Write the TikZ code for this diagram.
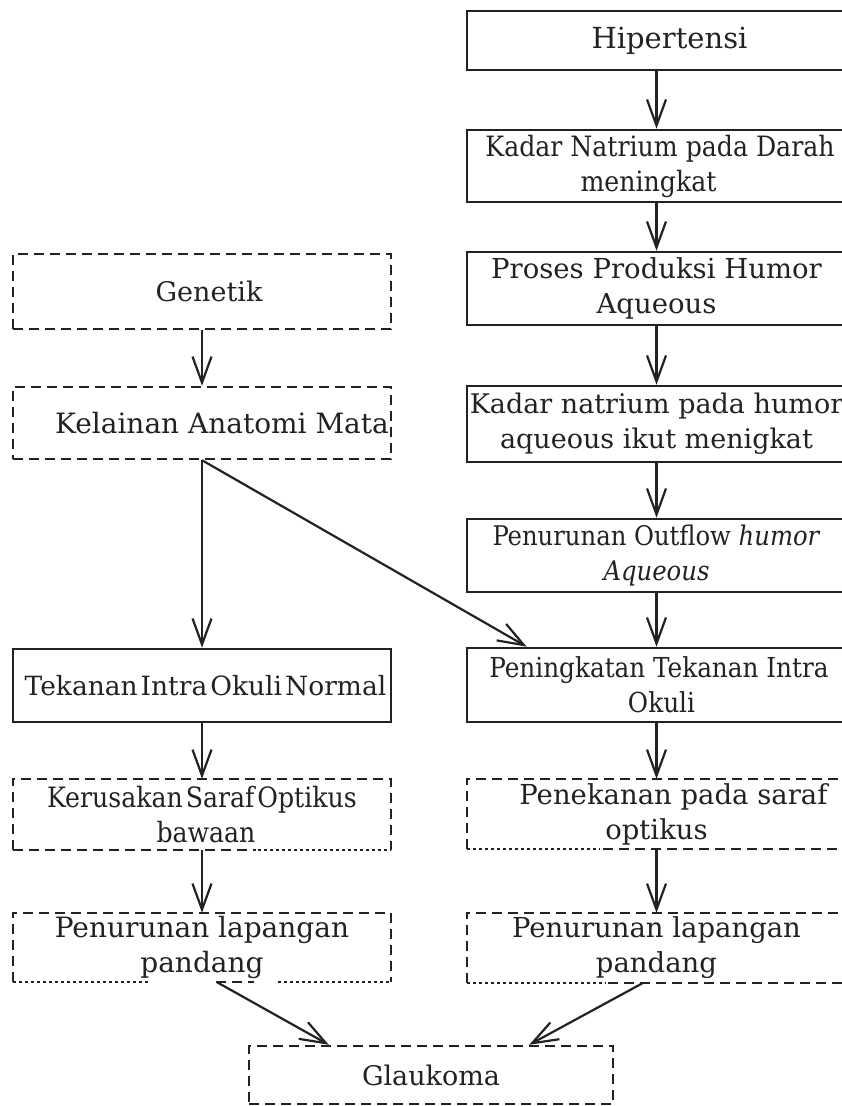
\documentclass[tikz,border=0pt]{standalone}
\usepackage{fontspec}
\setmainfont{DejaVu Serif}
\newfontfamily\condfont{DejaVu Serif Condensed}
\usetikzlibrary{arrows.meta,calc}
\definecolor{ink}{HTML}{222222}
\begin{document}
\begin{tikzpicture}[x=1pt,y=-1pt,
  plain/.style={text=ink, rectangle, inner sep=0pt, align=center,
    font=\fontsize{27}{35}\selectfont},
  box/.style={plain, draw=ink, line width=2.6pt},
  dbox/.style={plain, draw=ink, line width=2.4pt, dash pattern=on 10pt off 6pt},
  dline/.style={draw=ink, line width=2.4pt, dash pattern=on 10pt off 6pt},
  dotline/.style={draw=ink, line width=2pt, dash pattern=on 3pt off 3pt},
  fs/.style={font=\fontsize{#1}{35}\selectfont},
  cfs/.style={font=\condfont\fontsize{#1}{35}\selectfont},
  rcol/.style={minimum width=379pt},
  lcol/.style={minimum width=378pt},
  arr/.style={draw=ink, line width=2.2pt,
    -{Straight Barb[length=26pt,width=19pt]}}]
\clip (0,0) rectangle (842,1106);
% right column
\node[box,rcol,minimum height=59pt,fs=29] (r1) at (656.5,40.5) {\hspace*{26pt}Hipertensi};
\node[box,rcol,minimum height=72pt,cfs=28] (r2) at (656.5,166) {\hspace*{7pt}Kadar Natrium pada Darah\\meningkat\hspace*{16pt}};
\node[box,rcol,minimum height=73pt,fs=27.5] (r3) at (656.5,288.5) {Proses Produksi Humor\\Aqueous};
\node[box,rcol,minimum height=76pt] (r4) at (656.5,424) {Kadar natrium pada humor\\aqueous ikut menigkat};
\node[box,rcol,minimum height=73pt,cfs=27] (r5) at (656.5,555.5) {Penurunan Outflow \textit{humor}\\\textit{Aqueous}};
\node[box,rcol,minimum height=74pt,cfs=27.5] (r6) at (656.5,685) {\hspace*{5pt}Peningkatan Tekanan Intra\\\hspace*{10pt}Okuli};
\node[plain,rcol,minimum height=70pt,fs=27.5] (r7) at (656.5,814) {\hspace*{34pt}Penekanan pada saraf\\optikus};
\node[plain,rcol,minimum height=70pt,fs=27.5] (r8) at (656.5,948) {Penurunan lapangan\\pandang};
% left column
\node[dbox,lcol,minimum height=75pt] (l1) at (202,291.5) {\hspace*{14pt}Genetik};
\node[dbox,lcol,minimum height=72pt,fs=28] (l2) at (202,423) {\hspace*{40pt}Kelainan Anatomi Mata};
\node[box,lcol,minimum height=73pt,font={\fontsize{26.5}{35}\selectfont\spaceskip=3pt}] (l3) at (202,685.5) {\hspace*{7pt}Tekanan Intra Okuli Normal};
\node[plain,lcol,minimum height=71pt,font={\condfont\fontsize{28}{35}\selectfont\spaceskip=3pt}] (l4) at (202,814.5) {Kerusakan Saraf Optikus\\\hspace*{8pt}bawaan};
\node[plain,lcol,minimum height=69pt,fs=28] (l5) at (202,947.5) {Penurunan lapangan\\pandang};
\node[dbox,minimum width=364pt,minimum height=58pt] (g) at (431,1075) {Glaukoma};
% borders of the boxes with mixed bottom edges
\draw[dline] (l4.south west) -- (l4.north west) -- (l4.north east) -- (l4.south east);
\draw[dline] (l4.south west) -- (l4.south west -| 256,0);
\draw[dotline] (l4.south west -| 258,0) -- (l4.south east);
\draw[dline] (l5.south west) -- (l5.north west) -- (l5.north east) -- (l5.south east);
\draw[dotline] (l5.south west) -- (l5.south west -| 150,0);
\draw[dline] (l5.south west -| 216,0) -- (l5.south west -| 254,0);
\draw[dotline] (l5.south west -| 278,0) -- (l5.south east);
\draw[dline] (r7.south west) -- (r7.north west) -- (r7.north east) -- (r7.south east);
\draw[dotline] (r7.south west) -- (r7.south west -| 600,0);
\draw[dline] (r7.south west -| 603,0) -- (r7.south east);
\draw[dline] (r8.south west) -- (r8.north west) -- (r8.north east) -- (r8.south east);
\draw[dotline] (r8.south west) -- (r8.south west -| 605,0);
\draw[dline] (r8.south west -| 608,0) -- (r8.south east);
% arrows
\draw[arr] (r1) -- (r2);
\draw[arr] (r2) -- (r3);
\draw[arr] (r3) -- (r4);
\draw[arr] (r4) -- (r5);
\draw[arr] (r5) -- (r6);
\draw[arr] (r6) -- (r7);
\draw[arr] (r7) -- (r8);
\draw[arr] (l1) -- (l2);
\draw[arr] (l2.south) -- (l3.north);
\draw[arr] (l2.south) -- ($(r6.north west)+(61,0)$);
\draw[arr] (l3) -- (l4);
\draw[arr] (l4) -- (l5);
\draw[arr] ($(l5.south)+(15,0)$) -- ($(g.north west)+(81,0)$);
\draw[arr] ($(r8.south)+(-14,0)$) -- ($(g.north east)+(-85,0)$);
\end{tikzpicture}
\end{document}
